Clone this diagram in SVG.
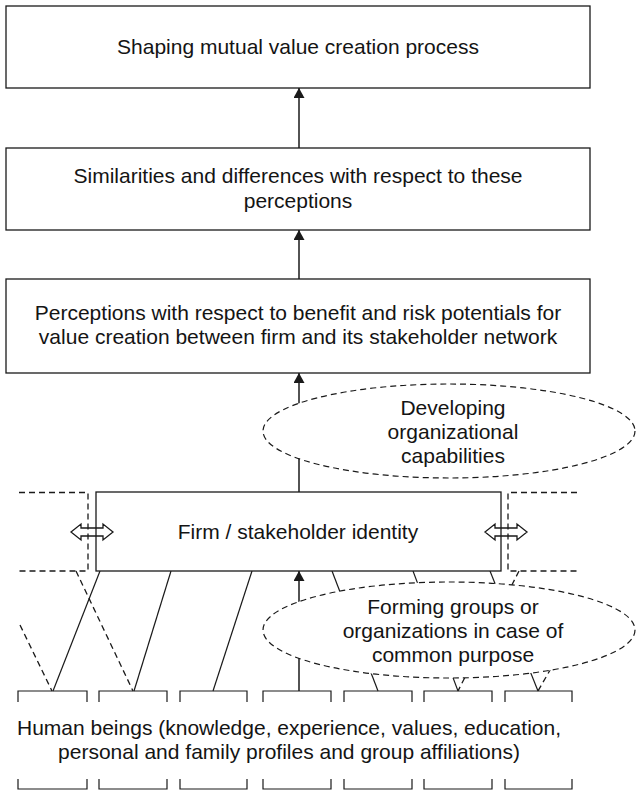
<svg xmlns="http://www.w3.org/2000/svg" width="637" height="791" viewBox="0 0 637 791">
  <defs>
    <style>
      .box { fill: #fff; stroke: #1a1a1a; stroke-width: 1.3; }
      .oval { fill: #fff; stroke: #1a1a1a; stroke-width: 1.2; stroke-dasharray: 6 4; }
      .dash { fill: none; stroke: #1a1a1a; stroke-width: 1.3; stroke-dasharray: 6 4; }
      .link { fill: none; stroke: #1a1a1a; stroke-width: 1.2; }
      .arrow { fill: none; stroke: #1a1a1a; stroke-width: 1.5; marker-end: url(#head); }
      .bracket { fill: none; stroke: #1a1a1a; stroke-width: 1.2; }
      .swap { fill: none; stroke: #1a1a1a; stroke-width: 1.3; stroke-linejoin: miter; }
      text { font-family: "Liberation Sans", Arial, sans-serif; font-size: 21px; fill: #141414; text-anchor: middle; }
    </style>
    <marker id="head" viewBox="0 0 10 11" refX="10" refY="5.5" markerUnits="userSpaceOnUse" markerWidth="10" markerHeight="11" orient="auto">
      <path d="M0,0 L10,5.5 L0,11 Z" fill="#1a1a1a"/>
    </marker>
    <!-- hollow two-way exchange arrow, 42 wide, centred on origin -->
    <path id="swap-arrow" d="M-21,0 L-11,-8 L-11,-4 L11,-4 L11,-8 L21,0 L11,8 L11,4 L-11,4 L-11,8 Z"/>
  </defs>

  <rect width="637" height="791" fill="#fff"/>

  <!-- neighbouring organisations (partial dashed frames) -->
  <g id="neighbour-left">
    <path class="dash" d="M19,492.5 H88 V571 H19"/>
  </g>
  <g id="neighbour-right">
    <path class="dash" d="M577,492.5 H508 V571 H577"/>
  </g>

  <!-- connectors -->
  <g id="connectors">
    <line class="arrow" x1="299" y1="148" x2="299" y2="88"/>
    <line class="arrow" x1="299" y1="279" x2="299" y2="230"/>
    <line class="arrow" x1="299" y1="492" x2="299" y2="373"/>
    <line class="arrow" x1="299" y1="691" x2="299" y2="571"/>
    <!-- people to firm -->
    <line class="link" x1="100" y1="571" x2="53" y2="691"/>
    <line class="link" x1="171" y1="571" x2="134" y2="691"/>
    <line class="link" x1="252" y1="571" x2="213" y2="691"/>
    <line class="link" x1="332" y1="571" x2="378" y2="691"/>
    <line class="link" x1="413" y1="571" x2="458" y2="691"/>
    <line class="link" x1="490" y1="571" x2="538" y2="691"/>
    <!-- people to other organisations -->
    <line class="dash" x1="20" y1="625" x2="52" y2="691"/>
    <line class="dash" x1="76" y1="571" x2="133" y2="691"/>
    <line class="dash" x1="519" y1="571" x2="458" y2="691"/>
    <line class="dash" x1="576" y1="625" x2="538" y2="691"/>
  </g>

  <g id="value-creation">
    <rect class="box" x="6" y="6" width="584" height="82"/>
    <text x="298" y="54">Shaping mutual value creation process</text>
  </g>

  <g id="similarities">
    <rect class="box" x="6" y="148" width="584" height="82"/>
    <text x="298" y="183">Similarities and differences with respect to these</text>
    <text x="298" y="208">perceptions</text>
  </g>

  <g id="perceptions">
    <rect class="box" x="6" y="279" width="584" height="94"/>
    <text x="298" y="320">Perceptions with respect to benefit and risk potentials for</text>
    <text x="298" y="344">value creation between firm and its stakeholder network</text>
  </g>

  <g id="capabilities">
    <ellipse class="oval" cx="449" cy="431" rx="186" ry="47"/>
    <text x="453" y="415">Developing</text>
    <text x="453" y="439">organizational</text>
    <text x="453" y="463">capabilities</text>
  </g>

  <g id="identity">
    <rect class="box" x="96" y="492" width="405" height="79"/>
    <text x="298" y="539">Firm / stakeholder identity</text>
  </g>

  <g id="exchange">
    <use href="#swap-arrow" class="swap" x="92" y="532"/>
    <use href="#swap-arrow" class="swap" x="506" y="532"/>
  </g>

  <g id="groups">
    <ellipse class="oval" cx="449" cy="630" rx="186" ry="48"/>
    <text x="453" y="614">Forming groups or</text>
    <text x="453" y="638">organizations in case of</text>
    <text x="453" y="662">common purpose</text>
  </g>

  <g id="human-beings">
    <path class="bracket" d="M18,702 V691 H87 V702 M99,702 V691 H167 V702 M180,702 V691 H247 V702 M263,702 V691 H331 V702 M344,702 V691 H412 V702 M424,702 V691 H492 V702 M505,702 V691 H572 V702"/>
    <path class="bracket" d="M18,779 V789 H87 V779 M99,779 V789 H167 V779 M180,779 V789 H247 V779 M263,779 V789 H331 V779 M344,779 V789 H412 V779 M424,779 V789 H492 V779 M505,779 V789 H572 V779"/>
    <text x="289" y="735">Human beings (knowledge, experience, values, education,</text>
    <text x="289" y="759">personal and family profiles and group affiliations)</text>
  </g>
</svg>
